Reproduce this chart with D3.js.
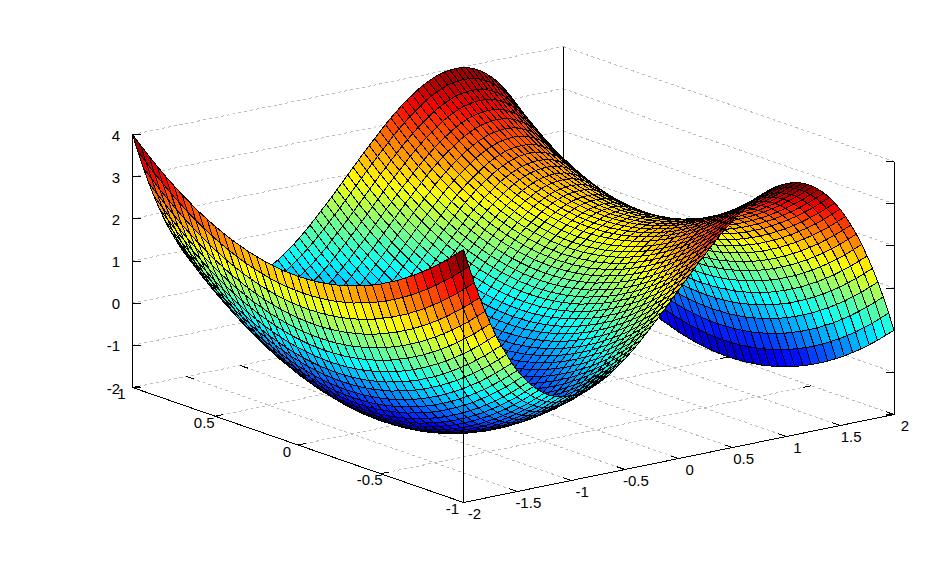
<!DOCTYPE html>
<html>
<head>
<meta charset="utf-8">
<script src="https://cdn.jsdelivr.net/npm/d3@7"></script>
<style>
  html, body { margin: 0; padding: 0; background: #fff; }
  svg { display: block; }
  text { font-family: "Liberation Sans", Arial, sans-serif; font-size: 15px; fill: #000; }
</style>
</head>
<body>
<figure id="surf" style="margin:0"></figure>
<script>
const xTicks = [-2, -1.5, -1, -0.5, 0, 0.5, 1, 1.5, 2];
const yTicks = [-1, -0.5, 0, 0.5, 1];
const zTicks = [-2, -1, 0, 1, 2, 3, 4];

const xGrid = [-2, -1.95, -1.9, -1.85, -1.8, -1.75, -1.7, -1.65, -1.6, -1.55, -1.5, -1.45, -1.4, -1.35, -1.3, -1.25, -1.2, -1.15, -1.1, -1.05, -1, -0.95, -0.9, -0.85, -0.8, -0.75, -0.7, -0.65, -0.6, -0.55, -0.5, -0.45, -0.4, -0.35, -0.3, -0.25, -0.2, -0.15, -0.1, -0.05, 0, 0.05, 0.1, 0.15, 0.2, 0.25, 0.3, 0.35, 0.4, 0.45, 0.5, 0.55, 0.6, 0.65, 0.7, 0.75, 0.8, 0.85, 0.9, 0.95, 1, 1.05, 1.1, 1.15, 1.2, 1.25, 1.3, 1.35, 1.4, 1.45, 1.5, 1.55, 1.6, 1.65, 1.7, 1.75, 1.8, 1.85, 1.9, 1.95, 2];
const yGrid = [-1, -0.95, -0.9, -0.85, -0.8, -0.75, -0.7, -0.65, -0.6, -0.55, -0.5, -0.45, -0.4, -0.35, -0.3, -0.25, -0.2, -0.15, -0.1, -0.05, 0, 0.05, 0.1, 0.15, 0.2, 0.25, 0.3, 0.35, 0.4, 0.45, 0.5, 0.55, 0.6, 0.65, 0.7, 0.75, 0.8, 0.85, 0.9, 0.95, 1];

// surface heights read along x, one row per |y| (surface looks mirrored about y = 0)
const z000 = [2.00,1.57,1.16,.78,.43,.11,-.19,-.46,-.70,-.93,-1.13,-1.30,-1.46,-1.59,-1.70,-1.80,-1.87,-1.93,-1.97,-1.99,-2.00,-1.99,-1.97,-1.94,-1.89,-1.83,-1.76,-1.68,-1.58,-1.48,-1.38,-1.26,-1.14,-1.01,-.87,-.73,-.59,-.45,-.30,-.15,0,.15,.30,.45,.59,.73,.87,1.01,1.14,1.26,1.38,1.48,1.58,1.68,1.76,1.83,1.89,1.94,1.97,1.99,2.00,1.99,1.97,1.93,1.87,1.80,1.70,1.59,1.46,1.30,1.13,.93,.70,.46,.19,-.11,-.43,-.78,-1.16,-1.57,-2.00];
const z005 = [2.01,1.58,1.17,.79,.44,.12,-.18,-.45,-.69,-.92,-1.12,-1.29,-1.45,-1.58,-1.69,-1.79,-1.86,-1.92,-1.96,-1.98,-1.99,-1.98,-1.96,-1.93,-1.88,-1.82,-1.75,-1.67,-1.57,-1.47,-1.37,-1.25,-1.13,-1.00,-.86,-.72,-.58,-.44,-.29,-.14,.01,.16,.31,.46,.60,.74,.88,1.02,1.15,1.27,1.39,1.49,1.59,1.69,1.77,1.84,1.90,1.95,1.98,2.00,2.01,2.00,1.98,1.94,1.88,1.81,1.71,1.60,1.47,1.31,1.14,.94,.71,.47,.20,-.10,-.42,-.77,-1.15,-1.56,-1.99];
const z010 = [2.02,1.59,1.18,.80,.45,.13,-.17,-.44,-.68,-.91,-1.11,-1.28,-1.44,-1.57,-1.68,-1.78,-1.85,-1.91,-1.95,-1.97,-1.98,-1.97,-1.95,-1.92,-1.87,-1.81,-1.74,-1.66,-1.56,-1.46,-1.36,-1.24,-1.12,-.99,-.85,-.71,-.57,-.43,-.28,-.13,.02,.17,.32,.47,.61,.75,.89,1.03,1.16,1.28,1.40,1.50,1.60,1.70,1.78,1.85,1.91,1.96,1.99,2.01,2.02,2.01,1.99,1.95,1.89,1.82,1.72,1.61,1.48,1.32,1.15,.95,.72,.48,.21,-.09,-.41,-.76,-1.14,-1.55,-1.98];
const z015 = [2.05,1.62,1.21,.83,.48,.16,-.14,-.41,-.65,-.88,-1.08,-1.25,-1.41,-1.54,-1.65,-1.75,-1.82,-1.88,-1.92,-1.94,-1.95,-1.94,-1.92,-1.89,-1.84,-1.78,-1.71,-1.63,-1.53,-1.43,-1.33,-1.21,-1.09,-.96,-.82,-.68,-.54,-.40,-.25,-.10,.05,.20,.35,.50,.64,.78,.92,1.06,1.19,1.31,1.43,1.53,1.63,1.73,1.81,1.88,1.94,1.99,2.02,2.04,2.05,2.04,2.02,1.98,1.92,1.85,1.75,1.64,1.51,1.35,1.18,.98,.75,.51,.24,-.06,-.38,-.73,-1.11,-1.52,-1.95];
const z020 = [2.08,1.65,1.24,.86,.51,.19,-.11,-.38,-.62,-.85,-1.05,-1.22,-1.38,-1.51,-1.62,-1.72,-1.79,-1.85,-1.89,-1.91,-1.92,-1.91,-1.89,-1.86,-1.81,-1.75,-1.68,-1.60,-1.50,-1.40,-1.30,-1.18,-1.06,-.93,-.79,-.65,-.51,-.37,-.22,-.07,.08,.23,.38,.53,.67,.81,.95,1.09,1.22,1.34,1.46,1.56,1.66,1.76,1.84,1.91,1.97,2.02,2.05,2.07,2.08,2.07,2.05,2.01,1.95,1.88,1.78,1.67,1.54,1.38,1.21,1.01,.78,.54,.27,-.03,-.35,-.70,-1.08,-1.49,-1.92];
const z025 = [2.13,1.70,1.29,.91,.56,.24,-.06,-.33,-.57,-.80,-1.00,-1.17,-1.33,-1.46,-1.57,-1.67,-1.74,-1.80,-1.84,-1.86,-1.87,-1.86,-1.84,-1.81,-1.76,-1.70,-1.63,-1.55,-1.45,-1.35,-1.25,-1.13,-1.01,-.88,-.74,-.60,-.46,-.32,-.17,-.02,.13,.28,.43,.58,.72,.86,1.00,1.14,1.27,1.39,1.51,1.61,1.71,1.81,1.89,1.96,2.02,2.07,2.10,2.12,2.13,2.12,2.10,2.06,2.00,1.93,1.83,1.72,1.59,1.43,1.26,1.06,.83,.59,.32,.02,-.30,-.65,-1.03,-1.44,-1.87];
const z030 = [2.18,1.75,1.34,.96,.61,.29,-.01,-.28,-.52,-.75,-.95,-1.12,-1.28,-1.41,-1.52,-1.62,-1.69,-1.75,-1.79,-1.81,-1.82,-1.81,-1.79,-1.76,-1.71,-1.65,-1.58,-1.50,-1.40,-1.30,-1.20,-1.08,-.96,-.83,-.69,-.55,-.41,-.27,-.12,.03,.18,.33,.48,.63,.77,.91,1.05,1.19,1.32,1.44,1.56,1.66,1.76,1.86,1.94,2.01,2.07,2.12,2.15,2.17,2.18,2.17,2.15,2.11,2.05,1.98,1.88,1.77,1.64,1.48,1.31,1.11,.88,.64,.37,.07,-.25,-.60,-.98,-1.39,-1.82];
const z035 = [2.25,1.82,1.41,1.03,.68,.36,.06,-.21,-.45,-.68,-.88,-1.05,-1.21,-1.34,-1.45,-1.55,-1.62,-1.68,-1.72,-1.74,-1.75,-1.74,-1.72,-1.69,-1.64,-1.58,-1.51,-1.43,-1.33,-1.23,-1.13,-1.01,-.89,-.76,-.62,-.48,-.34,-.20,-.05,.10,.25,.40,.55,.70,.84,.98,1.12,1.26,1.39,1.51,1.63,1.73,1.83,1.93,2.01,2.08,2.14,2.19,2.22,2.24,2.25,2.24,2.22,2.18,2.12,2.05,1.95,1.84,1.71,1.55,1.38,1.18,.95,.71,.44,.14,-.18,-.53,-.91,-1.32,-1.75];
const z040 = [2.32,1.89,1.48,1.10,.75,.43,.13,-.14,-.38,-.61,-.81,-.98,-1.14,-1.27,-1.38,-1.48,-1.55,-1.61,-1.65,-1.67,-1.68,-1.67,-1.65,-1.62,-1.57,-1.51,-1.44,-1.36,-1.26,-1.16,-1.06,-.94,-.82,-.69,-.55,-.41,-.27,-.13,.02,.17,.32,.47,.62,.77,.91,1.05,1.19,1.33,1.46,1.58,1.70,1.80,1.90,2.00,2.08,2.15,2.21,2.26,2.29,2.31,2.32,2.31,2.29,2.25,2.19,2.12,2.02,1.91,1.78,1.62,1.45,1.25,1.02,.78,.51,.21,-.11,-.46,-.84,-1.25,-1.68];
const z045 = [2.41,1.98,1.57,1.19,.84,.52,.22,-.05,-.29,-.52,-.72,-.89,-1.05,-1.18,-1.29,-1.39,-1.46,-1.52,-1.56,-1.58,-1.59,-1.58,-1.56,-1.53,-1.48,-1.42,-1.35,-1.27,-1.17,-1.07,-.97,-.85,-.73,-.60,-.46,-.32,-.18,-.04,.11,.26,.41,.56,.71,.86,1.00,1.14,1.28,1.42,1.55,1.67,1.79,1.89,1.99,2.09,2.17,2.24,2.30,2.35,2.38,2.40,2.41,2.40,2.38,2.34,2.28,2.21,2.11,2.00,1.87,1.71,1.54,1.34,1.11,.87,.60,.30,-.02,-.37,-.75,-1.16,-1.59];
const z050 = [2.50,2.07,1.66,1.28,.93,.61,.31,.04,-.20,-.43,-.63,-.80,-.96,-1.09,-1.20,-1.30,-1.37,-1.43,-1.47,-1.49,-1.50,-1.49,-1.47,-1.44,-1.39,-1.33,-1.26,-1.18,-1.08,-.98,-.88,-.76,-.64,-.51,-.37,-.23,-.09,.05,.20,.35,.50,.65,.80,.95,1.09,1.23,1.37,1.51,1.64,1.76,1.88,1.98,2.08,2.18,2.26,2.33,2.39,2.44,2.47,2.49,2.50,2.49,2.47,2.43,2.37,2.30,2.20,2.09,1.96,1.80,1.63,1.43,1.20,.96,.69,.39,.07,-.28,-.66,-1.07,-1.50];
const z055 = [2.61,2.18,1.77,1.39,1.04,.72,.42,.15,-.09,-.32,-.52,-.69,-.85,-.98,-1.09,-1.19,-1.26,-1.32,-1.36,-1.38,-1.39,-1.38,-1.36,-1.33,-1.28,-1.22,-1.15,-1.07,-.97,-.87,-.77,-.65,-.53,-.40,-.26,-.12,.02,.16,.31,.46,.61,.76,.91,1.06,1.20,1.34,1.48,1.62,1.75,1.87,1.99,2.09,2.19,2.29,2.37,2.44,2.50,2.55,2.58,2.60,2.61,2.60,2.58,2.54,2.48,2.41,2.31,2.20,2.07,1.91,1.74,1.54,1.31,1.07,.80,.50,.18,-.17,-.55,-.96,-1.39];
const z060 = [2.72,2.29,1.88,1.50,1.15,.83,.53,.26,.02,-.21,-.41,-.58,-.74,-.87,-.98,-1.08,-1.15,-1.21,-1.25,-1.27,-1.28,-1.27,-1.25,-1.22,-1.17,-1.11,-1.04,-.96,-.86,-.76,-.66,-.54,-.42,-.29,-.15,-.01,.13,.27,.42,.57,.72,.87,1.02,1.17,1.31,1.45,1.59,1.73,1.86,1.98,2.10,2.20,2.30,2.40,2.48,2.55,2.61,2.66,2.69,2.71,2.72,2.71,2.69,2.65,2.59,2.52,2.42,2.31,2.18,2.02,1.85,1.65,1.42,1.18,.91,.61,.29,-.06,-.44,-.85,-1.28];
const z065 = [2.85,2.42,2.01,1.63,1.28,.96,.66,.39,.15,-.08,-.28,-.45,-.61,-.74,-.85,-.95,-1.02,-1.08,-1.12,-1.14,-1.15,-1.14,-1.12,-1.09,-1.04,-.98,-.91,-.83,-.73,-.63,-.53,-.41,-.29,-.16,-.02,.12,.26,.40,.55,.70,.85,1.00,1.15,1.30,1.44,1.58,1.72,1.86,1.99,2.11,2.23,2.33,2.43,2.53,2.61,2.68,2.74,2.79,2.82,2.84,2.85,2.84,2.82,2.78,2.72,2.65,2.55,2.44,2.31,2.15,1.98,1.78,1.55,1.31,1.04,.74,.42,.07,-.31,-.72,-1.15];
const z070 = [2.98,2.55,2.14,1.76,1.41,1.09,.79,.52,.28,.05,-.15,-.32,-.48,-.61,-.72,-.82,-.89,-.95,-.99,-1.01,-1.02,-1.01,-.99,-.96,-.91,-.85,-.78,-.70,-.60,-.50,-.40,-.28,-.16,-.03,.11,.25,.39,.53,.68,.83,.98,1.13,1.28,1.43,1.57,1.71,1.85,1.99,2.12,2.24,2.36,2.46,2.56,2.66,2.74,2.81,2.87,2.92,2.95,2.97,2.98,2.97,2.95,2.91,2.85,2.78,2.68,2.57,2.44,2.28,2.11,1.91,1.68,1.44,1.17,.87,.55,.20,-.18,-.59,-1.02];
const z075 = [3.13,2.70,2.29,1.91,1.56,1.24,.94,.67,.43,.20,0,-.17,-.33,-.46,-.57,-.67,-.74,-.80,-.84,-.86,-.87,-.86,-.84,-.81,-.76,-.70,-.63,-.55,-.45,-.35,-.25,-.13,-.01,.12,.26,.40,.54,.68,.83,.98,1.13,1.28,1.43,1.58,1.72,1.86,2.00,2.14,2.27,2.39,2.51,2.61,2.71,2.81,2.89,2.96,3.02,3.07,3.10,3.12,3.13,3.12,3.10,3.06,3.00,2.93,2.83,2.72,2.59,2.43,2.26,2.06,1.83,1.59,1.32,1.02,.70,.35,-.03,-.44,-.87];
const z080 = [3.28,2.85,2.44,2.06,1.71,1.39,1.09,.82,.58,.35,.15,-.02,-.18,-.31,-.42,-.52,-.59,-.65,-.69,-.71,-.72,-.71,-.69,-.66,-.61,-.55,-.48,-.40,-.30,-.20,-.10,.02,.14,.27,.41,.55,.69,.83,.98,1.13,1.28,1.43,1.58,1.73,1.87,2.01,2.15,2.29,2.42,2.54,2.66,2.76,2.86,2.96,3.04,3.11,3.17,3.22,3.25,3.27,3.28,3.27,3.25,3.21,3.15,3.08,2.98,2.87,2.74,2.58,2.41,2.21,1.98,1.74,1.47,1.17,.85,.50,.12,-.29,-.72];
const z085 = [3.45,3.02,2.61,2.23,1.88,1.56,1.26,.99,.75,.52,.32,.15,-.01,-.14,-.25,-.35,-.42,-.48,-.52,-.54,-.55,-.54,-.52,-.49,-.44,-.38,-.31,-.23,-.13,-.03,.07,.19,.31,.44,.58,.72,.86,1.00,1.15,1.30,1.45,1.60,1.75,1.90,2.04,2.18,2.32,2.46,2.59,2.71,2.83,2.93,3.03,3.13,3.21,3.28,3.34,3.39,3.42,3.44,3.45,3.44,3.42,3.38,3.32,3.25,3.15,3.04,2.91,2.75,2.58,2.38,2.15,1.91,1.64,1.34,1.02,.67,.29,-.12,-.55];
const z090 = [3.62,3.19,2.78,2.40,2.05,1.73,1.43,1.16,.92,.69,.49,.32,.16,.03,-.08,-.18,-.25,-.31,-.35,-.37,-.38,-.37,-.35,-.32,-.27,-.21,-.14,-.06,.04,.14,.24,.36,.48,.61,.75,.89,1.03,1.17,1.32,1.47,1.62,1.77,1.92,2.07,2.21,2.35,2.49,2.63,2.76,2.88,3.00,3.10,3.20,3.30,3.38,3.45,3.51,3.56,3.59,3.61,3.62,3.61,3.59,3.55,3.49,3.42,3.32,3.21,3.08,2.92,2.75,2.55,2.32,2.08,1.81,1.51,1.19,.84,.46,.05,-.38];
const z095 = [3.81,3.38,2.97,2.59,2.24,1.92,1.62,1.35,1.11,.88,.68,.51,.35,.22,.11,.01,-.06,-.12,-.16,-.18,-.19,-.18,-.16,-.13,-.08,-.02,.05,.13,.23,.33,.43,.55,.67,.80,.94,1.08,1.22,1.36,1.51,1.66,1.81,1.96,2.11,2.26,2.40,2.54,2.68,2.82,2.95,3.07,3.19,3.29,3.39,3.49,3.57,3.64,3.70,3.75,3.78,3.80,3.81,3.80,3.78,3.74,3.68,3.61,3.51,3.40,3.27,3.11,2.94,2.74,2.51,2.27,2.00,1.70,1.38,1.03,.65,.24,-.19];
const z100 = [4.00,3.57,3.16,2.78,2.43,2.11,1.81,1.54,1.30,1.07,.87,.70,.54,.41,.30,.20,.13,.07,.03,.01,0,.01,.03,.06,.11,.17,.24,.32,.42,.52,.62,.74,.86,.99,1.13,1.27,1.41,1.55,1.70,1.85,2.00,2.15,2.30,2.45,2.59,2.73,2.87,3.01,3.14,3.26,3.38,3.48,3.58,3.68,3.76,3.83,3.89,3.94,3.97,3.99,4.00,3.99,3.97,3.93,3.87,3.80,3.70,3.59,3.46,3.30,3.13,2.93,2.70,2.46,2.19,1.89,1.57,1.22,.84,.43,0];

const zRows = [z100, z095, z090, z085, z080, z075, z070, z065, z060, z055, z050, z045, z040, z035, z030, z025, z020, z015, z010, z005, z000,
  z005, z010, z015, z020, z025, z030, z035, z040, z045, z050, z055, z060, z065, z070, z075, z080, z085, z090, z095, z100];

// fixed 3d view: each data axis has its own screen offset scale
const xToPx = d3.scaleLinear().domain([-2, 2]).range([0, 430.5]);
const xToPy = d3.scaleLinear().domain([-2, 2]).range([0, -88]);
const yToPx = d3.scaleLinear().domain([-1, 1]).range([463.5, 132.5]);
const yToPy = d3.scaleLinear().domain([-1, 1]).range([502.5, 387.5]);
const zToPy = d3.scaleLinear().domain([-2, 4]).range([0, -253]);

function project(x, y, z) {
  return [xToPx(x) + yToPx(y), xToPy(x) + yToPy(y) + zToPy(z)];
}

// matlab style jet, 64 flat levels
const jetRamp = d3.scaleLinear()
  .domain([0, 7, 23, 39.5, 55.5, 63])
  .range(["#00008f", "#0000ff", "#00ffff", "#ffff00", "#ff0000", "#800000"])
  .interpolate(d3.interpolateRgb);
const jetColors = d3.range(64).map(i => jetRamp(i));
const zToColor = d3.scaleQuantize().domain([-2, 4]).range(jetColors);

const svg = d3.select("figure#surf")
  .append("svg")
  .attr("width", 926)
  .attr("height", 568);

function drawLines(data, cls, stroke, dash) {
  svg.append("g")
    .attr("class", cls)
    .selectAll("line")
    .data(data)
    .join("line")
    .attr("x1", d => d[0][0])
    .attr("y1", d => d[0][1])
    .attr("x2", d => d[1][0])
    .attr("y2", d => d[1][1])
    .attr("stroke", stroke)
    .attr("stroke-width", 1)
    .attr("stroke-dasharray", dash)
    .attr("shape-rendering", "crispEdges");
}

// dotted grid on the two back walls and the floor
const gridLines = [];
zTicks.forEach(z => {
  gridLines.push([project(-2, 1, z), project(2, 1, z)]);
  gridLines.push([project(2, 1, z), project(2, -1, z)]);
});
xTicks.forEach(x => gridLines.push([project(x, -1, -2), project(x, 1, -2)]));
yTicks.forEach(y => gridLines.push([project(-2, y, -2), project(2, y, -2)]));
drawLines(gridLines, "grid", "#bdbdbd", "3,3");

drawLines([[project(2, 1, -2), project(2, 1, 4)]], "back-axis", "#000", null);

// short inward ticks on the floor edges and side verticals
const tickLines = [];
xTicks.forEach(x => {
  const a = project(x, -1, -2), b = project(x, 1, -2);
  tickLines.push([a, [a[0] - 8, a[1] - 2.7]]);
  tickLines.push([b, [b[0] + 8, b[1] + 2.7]]);
});
yTicks.forEach(y => {
  const a = project(-2, y, -2), b = project(2, y, -2);
  tickLines.push([a, [a[0] + 8, a[1] - 1.6]]);
  tickLines.push([b, [b[0] - 8, b[1] + 1.6]]);
});
zTicks.forEach(z => {
  const a = project(-2, 1, z), b = project(2, -1, z);
  tickLines.push([a, [a[0] + 8, a[1]]]);
  tickLines.push([b, [b[0] - 8, b[1]]]);
});
drawLines(tickLines, "ticks", "#000", null);

// faces back to front, coloured by their lowest index corner
const faces = [];
for (let i = xGrid.length - 2; i >= 0; i--) {
  for (let j = yGrid.length - 2; j >= 0; j--) {
    faces.push({
      c: zRows[j][i],
      pts: [
        project(xGrid[i], yGrid[j], zRows[j][i]),
        project(xGrid[i + 1], yGrid[j], zRows[j][i + 1]),
        project(xGrid[i + 1], yGrid[j + 1], zRows[j + 1][i + 1]),
        project(xGrid[i], yGrid[j + 1], zRows[j + 1][i])
      ]
    });
  }
}

svg.append("g")
  .attr("class", "surface")
  .selectAll("path")
  .data(faces)
  .join("path")
  .attr("d", d => "M" + d.pts.join("L") + "Z")
  .attr("fill", d => zToColor(d.c))
  .attr("stroke", "#000")
  .attr("stroke-width", 1)
  .attr("stroke-linejoin", "round")
  .attr("shape-rendering", "crispEdges");

// box edges stay on top of the surface
drawLines([
  [project(-2, 1, -2), project(-2, 1, 4)],
  [project(2, -1, -2), project(2, -1, 4)],
  [project(-2, -1, -2), project(-2, -1, 4)],
  [project(-2, -1, -2), project(2, -1, -2)],
  [project(-2, -1, -2), project(-2, 1, -2)]
], "box", "#000", null);

svg.append("g").selectAll("text")
  .data(zTicks)
  .join("text")
  .attr("x", 120)
  .attr("y", d => project(-2, 1, d)[1] + 6)
  .attr("text-anchor", "end")
  .text(d => d);

svg.append("g").selectAll("text")
  .data(xTicks)
  .join("text")
  .attr("x", d => project(d, -1, -2)[0] + 11)
  .attr("y", d => project(d, -1, -2)[1] + 16.5)
  .attr("text-anchor", "middle")
  .text(d => d);

svg.append("g").selectAll("text")
  .data(yTicks)
  .join("text")
  .attr("x", d => project(-2, d, -2)[0] - 11)
  .attr("y", d => project(-2, d, -2)[1] + 11.5)
  .attr("text-anchor", "middle")
  .text(d => d);
</script>
</body>
</html>
